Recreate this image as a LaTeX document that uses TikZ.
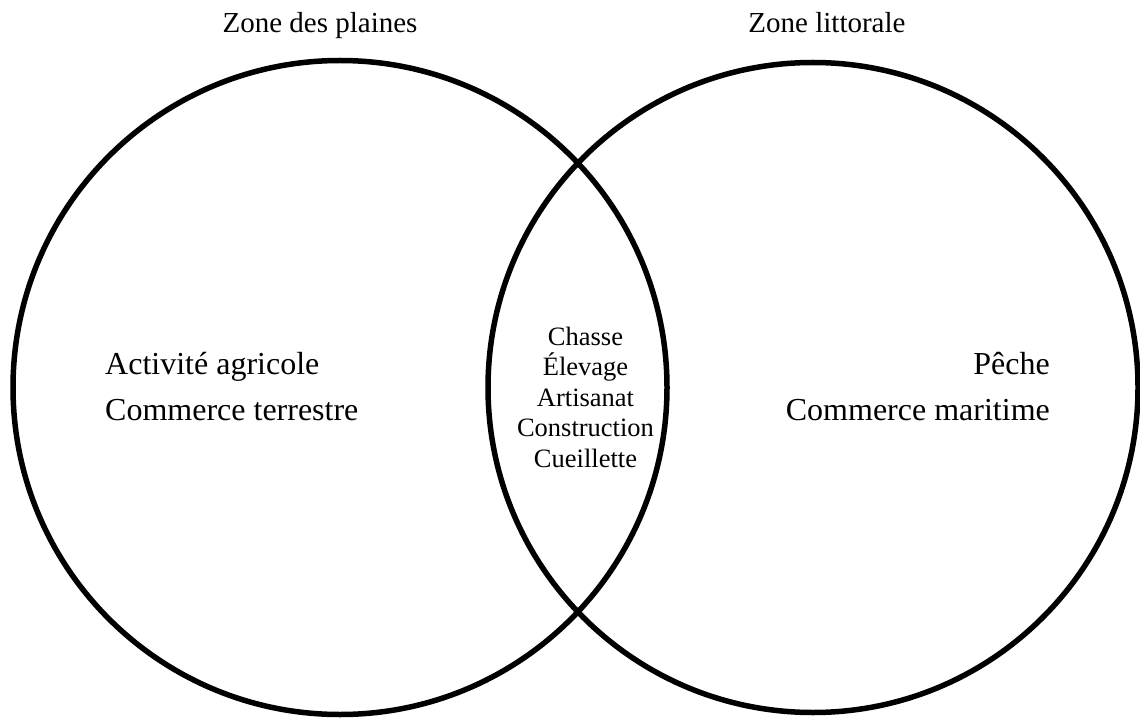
\documentclass[tikz,border=0pt]{standalone}
\usepackage{fontspec}
\setmainfont{Liberation Serif}
\begin{document}
\begin{tikzpicture}[x=1pt,y=-1pt,
  ring/.style={draw=black,line width=5.5pt},
  ttl/.style={font=\fontsize{29}{33}\selectfont,anchor=base,inner sep=0pt},
  side/.style={font=\fontsize{32}{46}\selectfont,inner sep=0pt,align=left},
  mid/.style={font=\fontsize{26.5}{30.5}\selectfont,inner sep=0pt,align=center}]
\useasboundingbox (0,0) rectangle (1140,719);
\node[ring,circle,minimum size=654pt,inner sep=0pt] (L) at (340,387.5) {};
\node[ring,circle,minimum size=650pt,inner sep=0pt] (R) at (813,387.5) {};
\node[ttl] (tl) at (320,33) {Zone des plaines};
\node[ttl] (tr) at (827,33) {Zone littorale};
\node[side,anchor=base west,align=left] (lt) at (105,420) {Activité agricole\\Commerce terrestre};
\node[side,anchor=base east,align=right] (rt) at (1050,420) {Pêche\\Commerce maritime};
\node[mid,anchor=base] (mt) at (585.5,467) {Chasse\\Élevage\\Artisanat\\Construction\\Cueillette};
\end{tikzpicture}
\end{document}
